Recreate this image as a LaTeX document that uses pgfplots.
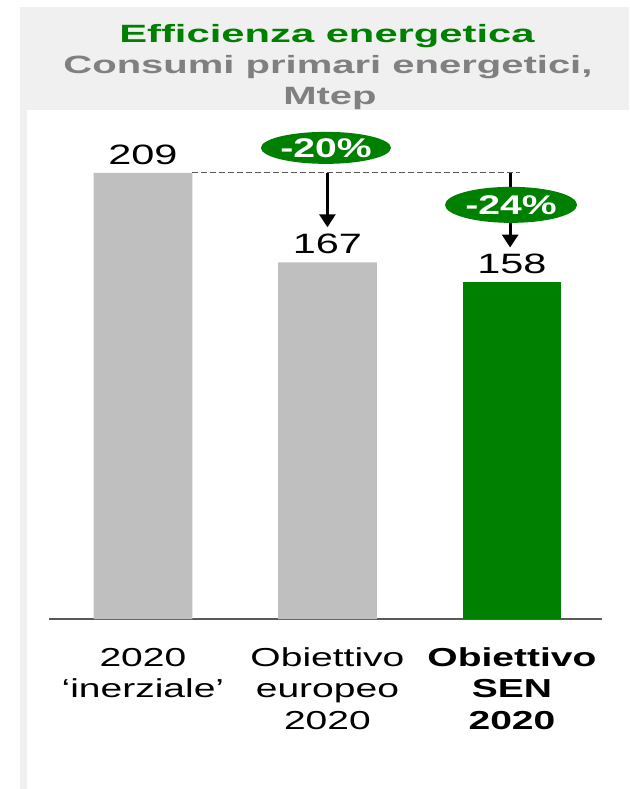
\documentclass[border=0pt]{standalone}
\usepackage{graphicx}
\usepackage{fontspec}
\setmainfont{Liberation Sans}
\usepackage{pgfplots}
\pgfplotsset{compat=1.18}
\usetikzlibrary{shapes.geometric,arrows.meta}

\definecolor{barGray}{HTML}{BFBFBF}
\definecolor{senGreen}{HTML}{008000}
\definecolor{subGray}{HTML}{808080}
\definecolor{panelGray}{HTML}{F0F0F0}
\definecolor{axisGray}{HTML}{595959}

% the source picture is stretched sideways, so is the text
\newcommand{\wide}[2][1.5]{\scalebox{#1}[1]{#2}}
\newcommand{\catfont}{\fontsize{13}{15}\selectfont}

\begin{document}
\begin{tikzpicture}
% panel background, 1 unit = 1 px of the reference
\begin{scope}[x=0.5pt,y=0.5pt]
  \useasboundingbox (0,0) rectangle (629,789);
  \fill[panelGray] (20,0) rectangle (629,782);
  \fill[white] (27,0) rectangle (629,679);
  \node[text=senGreen] at (327,753)
    {\wide[1.67]{\fontsize{12.5}{15}\selectfont\bfseries Efficienza energetica}};
  \node[text=subGray] at (328,722)
    {\wide[1.6]{\fontsize{12.5}{15}\selectfont\bfseries Consumi primari energetici,}};
  \node[text=subGray] at (330,691)
    {\wide[1.6]{\fontsize{12.5}{15}\selectfont\bfseries Mtep}};
\end{scope}

\begin{axis}[
    at={(24.5pt,85pt)}, anchor=south west,
    scale only axis,
    width=276.5pt, height=245.5pt,
    xmin=-0.509, xmax=2.488,
    ymin=0, ymax=230,
    axis x line=bottom, axis y line=none,
    x axis line style={-, axisGray, line width=1pt},
    xtick={0,1,2}, major tick length=0pt,
    xticklabels={
      {\wide{\begin{tabular}{@{}c@{}}2020\\‘inerziale’\end{tabular}}},
      {\wide{\begin{tabular}{@{}c@{}}Obiettivo\\europeo\\2020\end{tabular}}},
      {\wide{\bfseries\begin{tabular}{@{}c@{}}Obiettivo\\SEN\\2020\end{tabular}}}
    },
    xticklabel style={anchor=north, yshift=-9pt, font=\catfont\renewcommand\arraystretch{1.05}, text=black},
    ybar, bar width=0.535, bar shift=0pt,
    point meta=explicit symbolic,
    nodes near coords={\wide[1.48]{\pgfplotspointmeta}},
    nodes near coords style={anchor=south, inner sep=0pt, yshift=4pt,
        font=\fontsize{14}{16}\selectfont, text=black},
    clip=false,
]
\addplot[draw=none, fill=barGray] coordinates {(0,209)[209] (1,167)[167]};
\addplot[draw=none, fill=senGreen] coordinates {(2,158)[158]};

% reference level and reductions
\draw[axisGray, line width=0.5pt, dash pattern=on 3pt off 1.5pt]
    (axis cs:0.268,209) -- (axis cs:2.043,209);
\draw[line width=1.5pt, -{Triangle[length=6.5pt,width=8pt]}]
    (axis cs:1,209) -- (axis cs:1,183.5);
\draw[line width=1.5pt, -{Triangle[length=6.5pt,width=8pt]}]
    (axis cs:1.99,209) -- (axis cs:1.99,174);
\node[ellipse, fill=senGreen, minimum width=65pt, minimum height=16pt, inner sep=0pt,
      text=white, font=\fontsize{13.5}{15}\selectfont\bfseries]
    at (axis cs:0.992,220.7) {\wide[1.45]{-20\%}};
\node[ellipse, fill=senGreen, minimum width=66pt, minimum height=18pt, inner sep=0pt,
      text=white, font=\fontsize{13.5}{15}\selectfont\bfseries]
    at (axis cs:1.995,194) {\wide[1.45]{-24\%}};
\end{axis}
\end{tikzpicture}
\end{document}
